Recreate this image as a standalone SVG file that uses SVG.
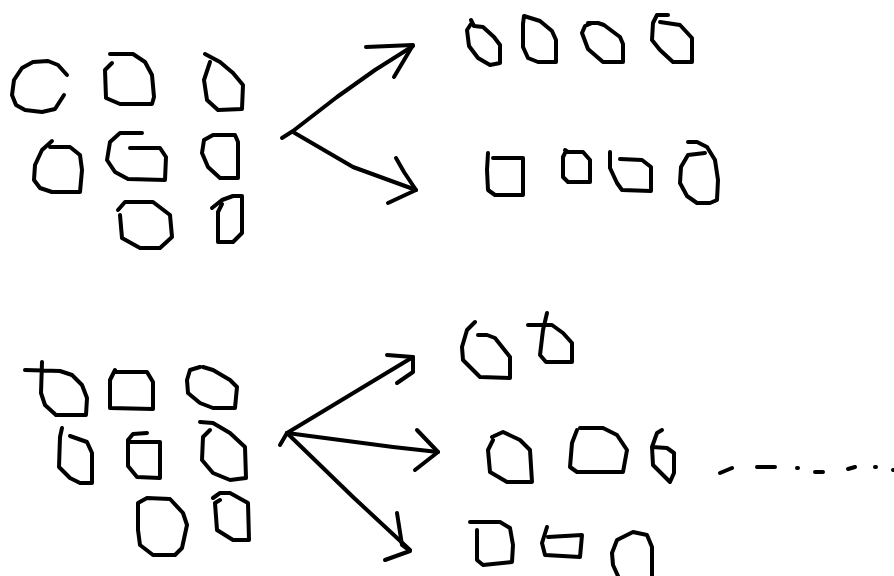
<svg xmlns="http://www.w3.org/2000/svg" width="894" height="576" viewBox="0 0 894 576">
<style>
path{fill:none;stroke:#000;stroke-width:4;stroke-linecap:round;stroke-linejoin:round}
</style>
<rect width="894" height="576" fill="#fff"/>
<g id="group-top-left">
<path d="M67,75 L58,65 L48,61 L33,62 L22,68 L14,80 L12,95 L16,105 L25,110 L42,112 L55,109 L64,95"/>
<path d="M110,54 L133,54 L145,62 L152,75 L154,97 L152,104 L120,104 L106,98 L105,70 L112,63"/>
<path d="M205,54 L220,62 L233,73 L243,85 L242,109 L218,110 L207,100 L204,80 L210,62"/>
<path d="M52,141 L42,150 L35,165 L34,180 L40,188 L52,192 L80,192 L82,170 L80,155 L70,147 L50,147"/>
<path d="M142,133 L120,133 L110,142 L107,160 L115,172 L128,179 L165,180 L166,157 L160,148 L130,148"/>
<path d="M213,135 L235,135 L238,142 L238,178 L220,178 L208,167 L202,153 L204,140 Z"/>
<path d="M118,210 L125,202 L153,202 L170,215 L172,237 L160,248 L140,248 L122,238 L120,215"/>
<path d="M212,208 L222,200 L233,196 L242,196 L242,233 L233,242 L218,242 L218,212 L222,204"/>
</g>
<g id="group-top-right-1">
<path d="M471,20 L474,26 L483,27 L494,37 L500,45 L500,63 L490,65 L478,58 L469,46 L467,30 L471,24"/>
<path d="M524,16 L540,21 L552,31 L556,40 L556,62 L538,62 L528,58 L523,47 L523,24 Z"/>
<path d="M588,23 L598,23 L604,25 L620,37 L623,44 L623,62 L603,62 L588,49 L582,33 L585,26 L592,23"/>
<path d="M668,15 L657,15 L653,23 L652,40 L660,50 L673,62 L692,62 L692,38 L680,25 L660,22"/>
</g>
<g id="group-top-right-2">
<path d="M488,153 L487,170 L488,190 L495,195 L523,195 L523,158 L493,158"/>
<path d="M565,150 L568,152 L583,152 L590,160 L590,182 L568,182 L563,177 L563,157 L566,151"/>
<path d="M610,152 L610,168 L617,183 L622,190 L651,191 L651,167 L642,160 L620,159"/>
<path d="M688,142 L697,142 L707,147 L715,160 L718,180 L717,200 L710,203 L697,203 L687,196 L680,183 L681,167 L688,155 L705,153"/>
</g>
<g id="group-bottom-left">
<path d="M42,362 L41,393 L45,405 L56,415 L86,415 L87,398 L82,385 L72,375 L60,371 L25,370"/>
<path d="M115,370 L110,380 L110,408 L153,409 L153,382 L147,372 L115,372"/>
<path d="M200,367 L190,370 L187,380 L188,393 L200,403 L213,408 L235,408 L237,387 L230,380 L213,370 L203,367"/>
<path d="M62,428 L60,437 L59,467 L70,478 L80,483 L92,483 L92,453 L87,442 L70,436"/>
<path d="M147,433 L133,434 L128,440 L128,466 L137,477 L160,478 L160,442 L130,442"/>
<path d="M200,422 L213,423 L230,433 L245,447 L246,478 L230,480 L213,473 L202,460 L203,437 L210,430"/>
<path d="M138,503 L147,498 L170,499 L183,513 L187,525 L182,548 L175,555 L153,555 L140,545 L138,530 Z"/>
<path d="M213,498 L220,493 L230,493 L248,503 L249,540 L233,540 L217,530 L215,503 L220,500"/>
</g>
<g id="group-bottom-right-1">
<path d="M475,322 L467,330 L462,347 L463,360 L480,377 L510,378 L510,357 L495,338 L487,335 L478,335"/>
<path d="M547,313 L543,330 L540,355 L546,362 L572,362 L572,343 L563,333 L552,325 L528,325"/>
</g>
<g id="group-bottom-right-2">
<path d="M492,437 L503,432 L520,440 L530,450 L532,482 L507,482 L490,472 L488,450 L493,440"/>
<path d="M577,430 L572,443 L570,467 L577,472 L623,472 L627,450 L617,435 L603,428 L580,428"/>
<path d="M662,430 L657,433 L652,447 L653,465 L670,482 L674,473 L674,453 L667,448 L652,447"/>
<path d="M720,473 L732,468 M757,467 L775,467 M797,468 L798,468 M815,472 L823,472 M848,469 L855,467 M875,467 L876,467 M893,470 L894,470"/>
</g>
<g id="group-bottom-right-3">
<path d="M470,522 L500,522 L510,528 L513,545 L512,562 L483,565 L477,560 L477,530"/>
<path d="M547,527 L542,543 L545,555 L580,557 L582,535 L548,537"/>
<path d="M618,576 L613,565 L612,553 L617,540 L633,532 L647,535 L652,547 L652,576"/>
</g>
<g id="connectors">
<path d="M282,138 L293,131 L337,97 L375,70 L413,46"/>
<path d="M366,47 L413,45 L394,77"/>
<path d="M293,132 L353,167 L416,190"/>
<path d="M396,158 L404,172 L416,190 L388,203"/>
<path d="M280,445 L287,433 L413,357"/>
<path d="M387,355 L413,357 L413,372 L397,383"/>
<path d="M287,433 L393,447 L438,452"/>
<path d="M417,430 L438,452 L415,470"/>
<path d="M287,433 L353,497 L410,550"/>
<path d="M397,513 L402,545 L410,551 L385,560"/>
</g>
</svg>
